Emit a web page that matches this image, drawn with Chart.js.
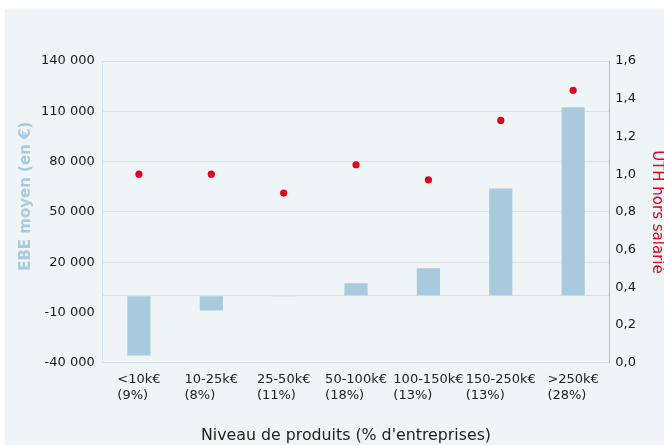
<!DOCTYPE html>
<html>
<head>
<meta charset="utf-8">
<script src="https://cdn.jsdelivr.net/npm/chart.js@4/dist/chart.umd.min.js"></script>
<style>
  html, body { margin: 0; padding: 0; background: #fff; overflow: hidden; }
  body { width: 664px; height: 445px; position: relative; }
  #panel { position: absolute; left: 5px; top: 9px; right: 0; bottom: 0; background: #eff4f7; }
  #wrap { position: absolute; left: 0; top: 0; width: 680px; height: 445px; }
</style>
</head>
<body>
<div id="panel"></div>
<div id="wrap"><canvas id="chart"></canvas></div>
<script>
const categories = ['<10k€', '10-25k€', '25-50k€', '50-100k€', '100-150k€', '150-250k€', '>250k€'];
const shares = ['(9%)', '(8%)', '(11%)', '(18%)', '(13%)', '(13%)', '(28%)'];
const ebeValues = [-35600, -8800, -500, 7400, 16400, 64000, 112400];
const uthValues = [1.0, 1.0, 0.9, 1.05, 0.97, 1.285, 1.445];
const leftTicks = [-40000, -10000, 20000, 50000, 80000, 110000, 140000];

const FONT = 'DejaVu Sans, Verdana, sans-serif';

function formatThousands(v) {
  const s = Math.abs(v).toString().replace(/\B(?=(\d{3})+(?!\d))/g, ' ');
  return (v < 0 ? '-' : '') + s;
}

// Excel-style category labels: block centred on the tick, lines left-aligned
const blockLabels = {
  id: 'blockLabels',
  afterDraw(chart) {
    const x = chart.scales.x;
    const ctx = chart.ctx;
    ctx.save();
    ctx.font = '13px ' + FONT;
    ctx.fillStyle = '#222';
    ctx.textAlign = 'left';
    ctx.textBaseline = 'middle';
    categories.forEach((c, i) => {
      const lines = [c, shares[i]];
      const w = Math.max(...lines.map(l => ctx.measureText(l).width));
      const left = x.getPixelForTick(i) - w / 2;
      lines.forEach((l, j) => ctx.fillText(l, left, x.top + 17 + j * 16));
    });
    ctx.restore();
  }
};

new Chart(document.getElementById('chart'), {
  data: {
    labels: categories,
    datasets: [
      {
        type: 'line',
        data: uthValues,
        yAxisID: 'y1',
        showLine: false,
        pointRadius: 3.6,
        pointBackgroundColor: '#e2001a',
        pointBorderWidth: 0,
        order: 0
      },
      {
        type: 'bar',
        data: ebeValues,
        yAxisID: 'y',
        backgroundColor: '#a9cadd',
        barPercentage: 0.32,
        categoryPercentage: 1,
        order: 1
      }
    ]
  },
  options: {
    responsive: true,
    maintainAspectRatio: false,
    animation: false,
    layout: { padding: { top: 61, left: 17, right: 5, bottom: 0 } },
    plugins: {
      legend: { display: false },
      tooltip: { enabled: false }
    },
    scales: {
      x: {
        offset: true,
        grid: { display: false },
        border: { color: '#d6dde2' },
        ticks: {
          color: 'transparent',
          font: { family: FONT, size: 13 },
          maxRotation: 0,
          autoSkip: false,
          callback: (v, i) => [categories[i], shares[i]]
        },
        title: {
          display: true,
          text: 'Niveau de produits (% d\'entreprises)    ',
          color: '#222',
          font: { family: FONT, size: 15.8 },
          padding: { top: 18, bottom: 0 }
        }
      },
      y: {
        position: 'left',
        min: -40000,
        max: 140000,
        afterBuildTicks: scale => {
          scale.ticks = leftTicks.concat([0]).sort((a, b) => a - b).map(v => ({ value: v }));
        },
        grid: {
          color: ctx => (ctx.tick && ctx.tick.value === -10000 ? 'transparent' : '#d9dfe3'),
          drawTicks: false
        },
        border: { color: '#d3e1ea' },
        ticks: {
          color: '#1a1a1a',
          padding: 8,
          font: { family: FONT, size: 13 },
          callback: v => (v === 0 ? '' : formatThousands(v))
        },
        title: {
          display: true,
          text: '      EBE moyen (en €)',
          color: '#a9cadd',
          font: { family: FONT, size: 15, weight: 'bold' },
          padding: { top: 0, bottom: -2 }
        }
      },
      y1: {
        position: 'right',
        min: 0,
        max: 1.6,
        grid: { display: false, drawTicks: false },
        border: { color: '#eeaa7a' },
        ticks: {
          stepSize: 0.2,
          color: '#1a1a1a',
          padding: 6,
          font: { family: FONT, size: 13 },
          callback: v => v.toFixed(1).replace('.', ',')
        },
        title: {
          display: true,
          text: 'UTH hors salarié',
          color: '#e2001a',
          font: { family: FONT, size: 15 },
          padding: { top: 9, bottom: 6 }
        }
      }
    }
  },
  plugins: [blockLabels]
});
</script>
</body>
</html>
